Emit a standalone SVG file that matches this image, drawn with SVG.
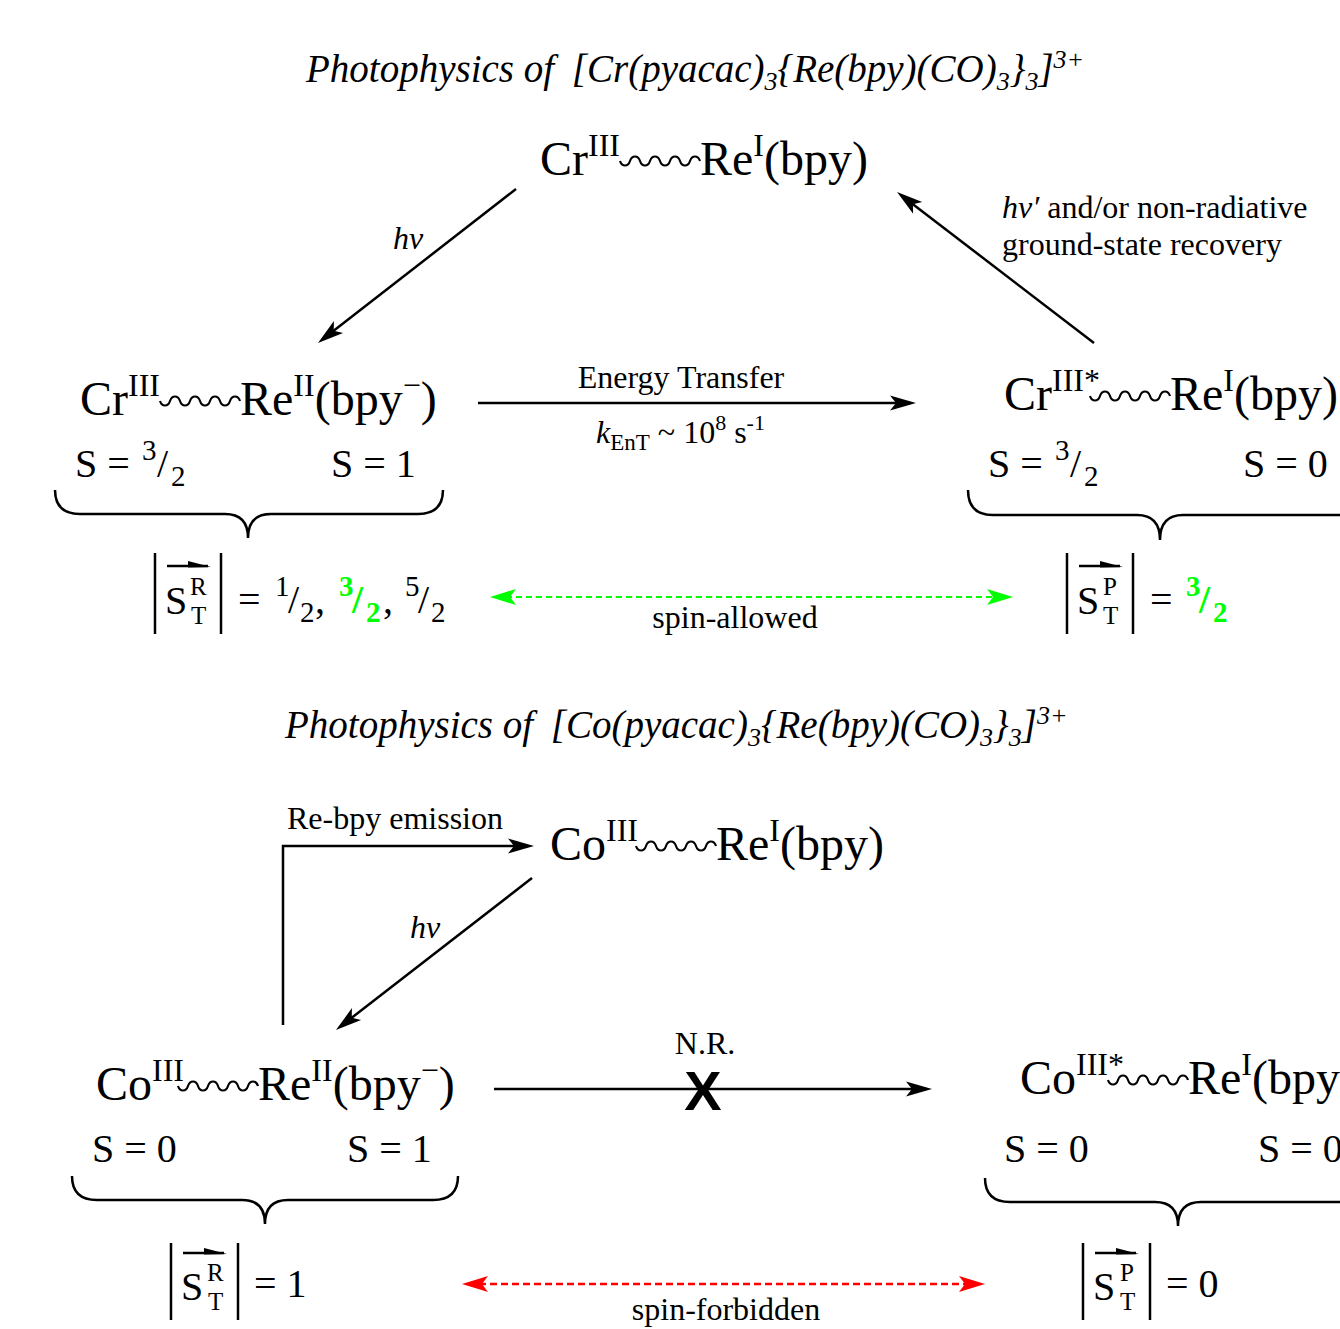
<svg xmlns="http://www.w3.org/2000/svg" xmlns:xlink="http://www.w3.org/1999/xlink" width="1340" height="1329" viewBox="0 0 1340 1329">
<style>
.t{font-family:"Liberation Serif","Times New Roman",serif;fill:#000}
.ttl{font-size:39px;font-style:italic}
.tsub{font-size:26px}
.big{font-size:48px}
.sup{font-size:32px}
.med{font-size:40px}
.sm{font-size:25px}
.fr{font-size:29px}
.lab{font-size:32px}
.it{font-style:italic}
.g{fill:#00ff00;font-weight:bold}
.wave{fill:none;stroke:#000;stroke-width:2.2}
.ln{fill:none;stroke:#000;stroke-width:2.5}
.brace{fill:none;stroke:#000;stroke-width:2.5}
.bar{stroke:#000;stroke-width:2.5}
.dg{fill:none;stroke:#00ff00;stroke-width:2.2;stroke-dasharray:6 4}
.dr{fill:none;stroke:#ff0000;stroke-width:2.5;stroke-dasharray:7 4}
</style>
<defs>
<path id="wv" d="M0,0 c2,6 8,6 10,0 s8,-6 10,0 s8,6 10,0 s8,-6 10,0 s8,6 10,0 s8,-6 10,0 s8,6 10,0 s8,-6 10,0"/>
<marker id="ah" markerUnits="userSpaceOnUse" orient="auto-start-reverse" overflow="visible" markerWidth="1" markerHeight="1" refX="0" refY="0"><path d="M6,0 L-20,-7.5 L-14,0 L-20,7.5 Z" fill="#000"/></marker>
<marker id="ahg" markerUnits="userSpaceOnUse" orient="auto-start-reverse" overflow="visible" markerWidth="1" markerHeight="1" refX="0" refY="0"><path d="M6,0 L-20,-8 L-14,0 L-20,8 Z" fill="#00ff00"/></marker>
<marker id="ahr" markerUnits="userSpaceOnUse" orient="auto-start-reverse" overflow="visible" markerWidth="1" markerHeight="1" refX="0" refY="0"><path d="M6,0 L-20,-8 L-14,0 L-20,8 Z" fill="#ff0000"/></marker>
<marker id="ov" markerUnits="userSpaceOnUse" orient="auto" overflow="visible" markerWidth="1" markerHeight="1" refX="0" refY="0"><path d="M3,1 L-20,-5 L-20,1.5 Z" fill="#000"/></marker>
</defs>

<!-- Titles -->
<text id="title1" class="t ttl" x="306" y="82">Photophysics of <tspan dx="8">[Cr(pyacac)</tspan><tspan class="tsub" dy="8">3</tspan><tspan dy="-8">{Re(bpy)(CO)</tspan><tspan class="tsub" dy="8">3</tspan><tspan dy="-8">}</tspan><tspan class="tsub" dy="8">3</tspan><tspan dy="-8">]</tspan><tspan class="tsub" dy="-14">3+</tspan></text>
<text id="title2" class="t ttl" x="285" y="738">Photophysics of <tspan dx="8">[Co(pyacac)</tspan><tspan class="tsub" dy="8">3</tspan><tspan dy="-8">{Re(bpy)(CO)</tspan><tspan class="tsub" dy="8">3</tspan><tspan dy="-8">}</tspan><tspan class="tsub" dy="8">3</tspan><tspan dy="-8">]</tspan><tspan class="tsub" dy="-14">3+</tspan></text>

<!-- Node: Cr(III)-Re(I) ground -->
<g id="n-cr-ground">
<text class="t big" x="540" y="175">Cr<tspan class="sup" dy="-19">III</tspan></text>
<use xlink:href="#wv" href="#wv" class="wave" x="620" y="161"/>
<text class="t big" x="700" y="175">Re<tspan class="sup" dy="-19">I</tspan><tspan dy="19">(bpy)</tspan></text>
</g>

<!-- Node: Cr(III)-Re(II)(bpy-) -->
<g id="n-cr-mlct">
<text class="t big" x="80" y="415">Cr<tspan class="sup" dy="-19">III</tspan></text>
<use xlink:href="#wv" href="#wv" class="wave" x="160" y="401"/>
<text class="t big" x="240" y="415">Re<tspan class="sup" dy="-19">II</tspan><tspan dy="19">(bpy</tspan><tspan class="sup" dy="-19">−</tspan><tspan dy="19">)</tspan></text>
<text class="t med" x="75" y="477">S =</text>
<text class="t fr" x="142" y="460">3</text><text class="t med" x="157" y="477">/</text><text class="t fr" x="171" y="486">2</text>
<text class="t med" x="331" y="477">S = 1</text>
<path class="brace" d="M55,490 Q55,514 80,514 L225,514 Q248,514 248,538 Q248,514 271,514 L418,514 Q443,514 443,490"/>
<line class="bar" x1="155" y1="553" x2="155" y2="634"/>
<line class="bar" x1="221" y1="553" x2="221" y2="634"/>
<line class="ln" x1="167" y1="566" x2="208" y2="566" marker-end="url(#ov)"/>
<text class="t med" x="165" y="614">S</text>
<text class="t sm" x="190" y="595">R</text>
<text class="t sm" x="191" y="624">T</text>
<text class="t med" x="238" y="613">=</text>
<text class="t fr" x="275" y="596">1</text><text class="t med" x="288" y="613">/</text><text class="t fr" x="300" y="622">2</text><text class="t med" x="315" y="613">,</text>
<text class="t fr g" x="339" y="596">3</text><text class="t med g" x="352" y="613">/</text><text class="t fr g" x="366" y="622">2</text><text class="t med" x="383" y="613">,</text>
<text class="t fr" x="405" y="596">5</text><text class="t med" x="418" y="613">/</text><text class="t fr" x="431" y="622">2</text>
</g>

<!-- Node: Cr(III)* -->
<g id="n-cr-excited">
<text class="t big" x="1004" y="410">Cr<tspan class="sup" dy="-19">III*</tspan></text>
<use xlink:href="#wv" href="#wv" class="wave" x="1090" y="396"/>
<text class="t big" x="1170" y="410">Re<tspan class="sup" dy="-19">I</tspan><tspan dy="19">(bpy)</tspan></text>
<text class="t med" x="988" y="477">S =</text>
<text class="t fr" x="1055" y="460">3</text><text class="t med" x="1070" y="477">/</text><text class="t fr" x="1084" y="486">2</text>
<text class="t med" x="1243" y="477">S = 0</text>
<path class="brace" d="M968,490 Q968,515 993,515 L1137,515 Q1160,515 1160,540 Q1160,515 1183,515 L1345,515"/>
<line class="bar" x1="1067" y1="553" x2="1067" y2="634"/>
<line class="bar" x1="1133" y1="553" x2="1133" y2="634"/>
<line class="ln" x1="1079" y1="566" x2="1120" y2="566" marker-end="url(#ov)"/>
<text class="t med" x="1077" y="614">S</text>
<text class="t sm" x="1103" y="595">P</text>
<text class="t sm" x="1103" y="624">T</text>
<text class="t med" x="1150" y="613">=</text>
<text class="t fr g" x="1186" y="596">3</text><text class="t med g" x="1199" y="613">/</text><text class="t fr g" x="1213" y="622">2</text>
</g>

<!-- Node: Co(III)-Re(I) ground -->
<g id="n-co-ground">
<text class="t big" x="550" y="860">Co<tspan class="sup" dy="-19">III</tspan></text>
<use xlink:href="#wv" href="#wv" class="wave" x="636" y="846"/>
<text class="t big" x="716" y="860">Re<tspan class="sup" dy="-19">I</tspan><tspan dy="19">(bpy)</tspan></text>
</g>

<!-- Node: Co(III)-Re(II)(bpy-) -->
<g id="n-co-mlct">
<text class="t big" x="96" y="1100">Co<tspan class="sup" dy="-19">III</tspan></text>
<use xlink:href="#wv" href="#wv" class="wave" x="178" y="1086"/>
<text class="t big" x="258" y="1100">Re<tspan class="sup" dy="-19">II</tspan><tspan dy="19">(bpy</tspan><tspan class="sup" dy="-19">−</tspan><tspan dy="19">)</tspan></text>
<text class="t med" x="92" y="1162">S = 0</text>
<text class="t med" x="347" y="1162">S = 1</text>
<path class="brace" d="M72,1176 Q72,1200 97,1200 L242,1200 Q265,1200 265,1224 Q265,1200 288,1200 L433,1200 Q458,1200 458,1176"/>
<line class="bar" x1="171" y1="1243" x2="171" y2="1320"/>
<line class="bar" x1="238" y1="1243" x2="238" y2="1320"/>
<line class="ln" x1="183" y1="1253" x2="224" y2="1253" marker-end="url(#ov)"/>
<text class="t med" x="181" y="1300">S</text>
<text class="t sm" x="207" y="1281">R</text>
<text class="t sm" x="208" y="1310">T</text>
<text class="t med" x="254" y="1297">= 1</text>
</g>

<!-- Node: Co(III)* -->
<g id="n-co-excited">
<text class="t big" x="1020" y="1094">Co<tspan class="sup" dy="-19">III*</tspan></text>
<use xlink:href="#wv" href="#wv" class="wave" x="1108" y="1080"/>
<text class="t big" x="1188" y="1094">Re<tspan class="sup" dy="-19">I</tspan><tspan dy="19">(bpy)</tspan></text>
<text class="t med" x="1004" y="1162">S = 0</text>
<text class="t med" x="1258" y="1162">S = 0</text>
<path class="brace" d="M985,1178 Q985,1202 1010,1202 L1155,1202 Q1178,1202 1178,1226 Q1178,1202 1201,1202 L1345,1202"/>
<line class="bar" x1="1083" y1="1243" x2="1083" y2="1320"/>
<line class="bar" x1="1150" y1="1243" x2="1150" y2="1320"/>
<line class="ln" x1="1095" y1="1253" x2="1136" y2="1253" marker-end="url(#ov)"/>
<text class="t med" x="1093" y="1300">S</text>
<text class="t sm" x="1120" y="1281">P</text>
<text class="t sm" x="1120" y="1310">T</text>
<text class="t med" x="1166" y="1297">= 0</text>
</g>

<!-- Connectors -->
<g id="connectors">
<line class="ln" x1="516" y1="189" x2="322.7" y2="339.3" marker-end="url(#ah)"/>
<text class="t lab it" x="393" y="249">hv</text>
<line class="ln" x1="1094" y1="343" x2="901.8" y2="195.7" marker-end="url(#ah)"/>
<text class="t lab" x="1002" y="218"><tspan class="it">hv′</tspan> and/or non-radiative</text>
<text class="t lab" x="1002" y="255">ground-state recovery</text>
<line class="ln" x1="478" y1="403" x2="910" y2="403" marker-end="url(#ah)"/>
<text class="t lab" x="681" y="388" text-anchor="middle">Energy Transfer</text>
<text class="t lab" x="596" y="443"><tspan class="it">k</tspan><tspan font-size="23" dy="7">EnT</tspan><tspan dy="-7"> ~ 10</tspan><tspan font-size="22" dy="-13">8</tspan><tspan dy="13"> s</tspan><tspan font-size="22" dy="-13">-1</tspan></text>
<line class="dg" x1="496" y1="597" x2="1007" y2="597" marker-start="url(#ahg)" marker-end="url(#ahg)"/>
<text class="t lab" x="735" y="628" text-anchor="middle">spin-allowed</text>

<polyline class="ln" points="283,1025 283,846 528,846" marker-end="url(#ah)"/>
<text class="t lab" x="287" y="829">Re-bpy emission</text>
<line class="ln" x1="532" y1="878" x2="340.7" y2="1026.3" marker-end="url(#ah)"/>
<text class="t lab it" x="410" y="938">hv</text>
<line class="ln" x1="494" y1="1089" x2="926" y2="1089" marker-end="url(#ah)"/>
<text class="t lab" x="705" y="1054" text-anchor="middle">N.R.</text>
<text x="703" y="1110" text-anchor="middle" font-family="Liberation Sans, Arial, sans-serif" font-weight="bold" font-size="56">X</text>
<line class="dr" x1="468" y1="1284" x2="979" y2="1284" marker-start="url(#ahr)" marker-end="url(#ahr)"/>
<text class="t lab" x="726" y="1320" text-anchor="middle">spin-forbidden</text>
</g>
</svg>
